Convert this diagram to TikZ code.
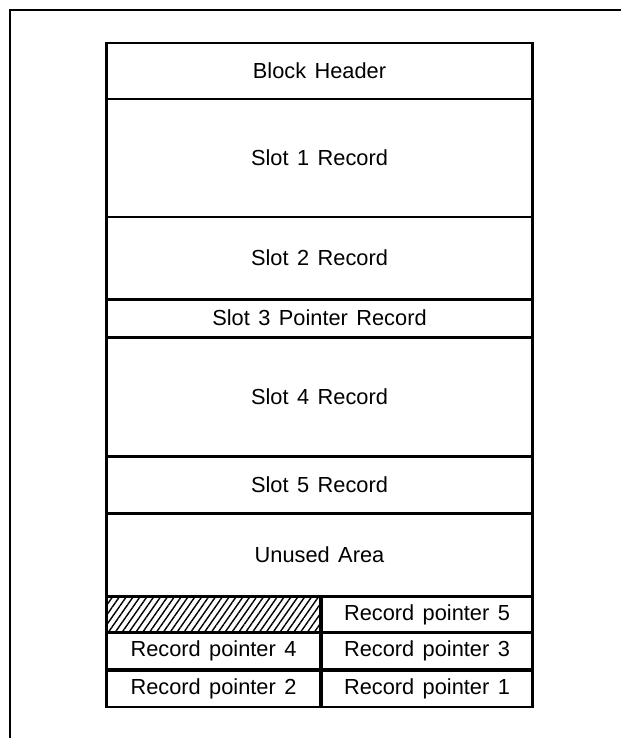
\documentclass[tikz,border=0pt]{standalone}
\usepackage{fontspec}
\setmainfont[WordSpace=1.4]{Liberation Sans}
\usetikzlibrary{patterns.meta}
\tikzset{
  px/.style={x=0.02cm,y=-0.02cm},
  slotbox/.style={draw,line width=1.7pt,inner sep=0pt,outer sep=0pt,
    minimum width=8.54cm,font=\fontsize{12.4}{14}\selectfont},
  ptrbox/.style={draw,line width=1.7pt,inner sep=0pt,outer sep=0pt,
    font=\fontsize{12.4}{14}\selectfont},
}
\begin{document}
\begin{tikzpicture}[px]
\useasboundingbox (0,0) rectangle (621,738);

% frame
\draw[line width=1.3pt] (10,738) -- (10,10) -- (621,10);

% block rows
\foreach \name/\y/\h/\txt in {
hdr/71/56/{Block Header},
slotA/158/118/{Slot 1 Record},
slotB/258/82/{Slot 2 Record},
slotC/318/38/{Slot 3 Pointer Record},
slotD/396.5/119/{Slot 4 Record},
slotE/484.5/57/{Slot 5 Record},
unused/554.5/83/{Unused Area}
}
{
\node[slotbox,minimum height=0.02cm*\h] (\name) at (319.5,\y) {\txt};
}

% pointer array
\node[ptrbox,minimum width=4.3cm,minimum height=0.74cm,
  pattern={Lines[angle=55,distance=3.2pt,line width=0.8pt]}] (free) at (213.5,614.5) {};
\foreach \name/\x/\y/\w/\txt in {
ptrE/427/614.5/4.24/{Record pointer 5},
ptrD/213.5/651/4.3/{Record pointer 4},
ptrC/427/651/4.24/{Record pointer 3},
ptrB/213.5/688.5/4.3/{Record pointer 2},
ptrA/427/688.5/4.24/{Record pointer 1}
}
{
\node[ptrbox,minimum width=\w cm,minimum height=0.74cm] (\name) at (\x,\y) {\txt};
}

\end{tikzpicture}
\end{document}
